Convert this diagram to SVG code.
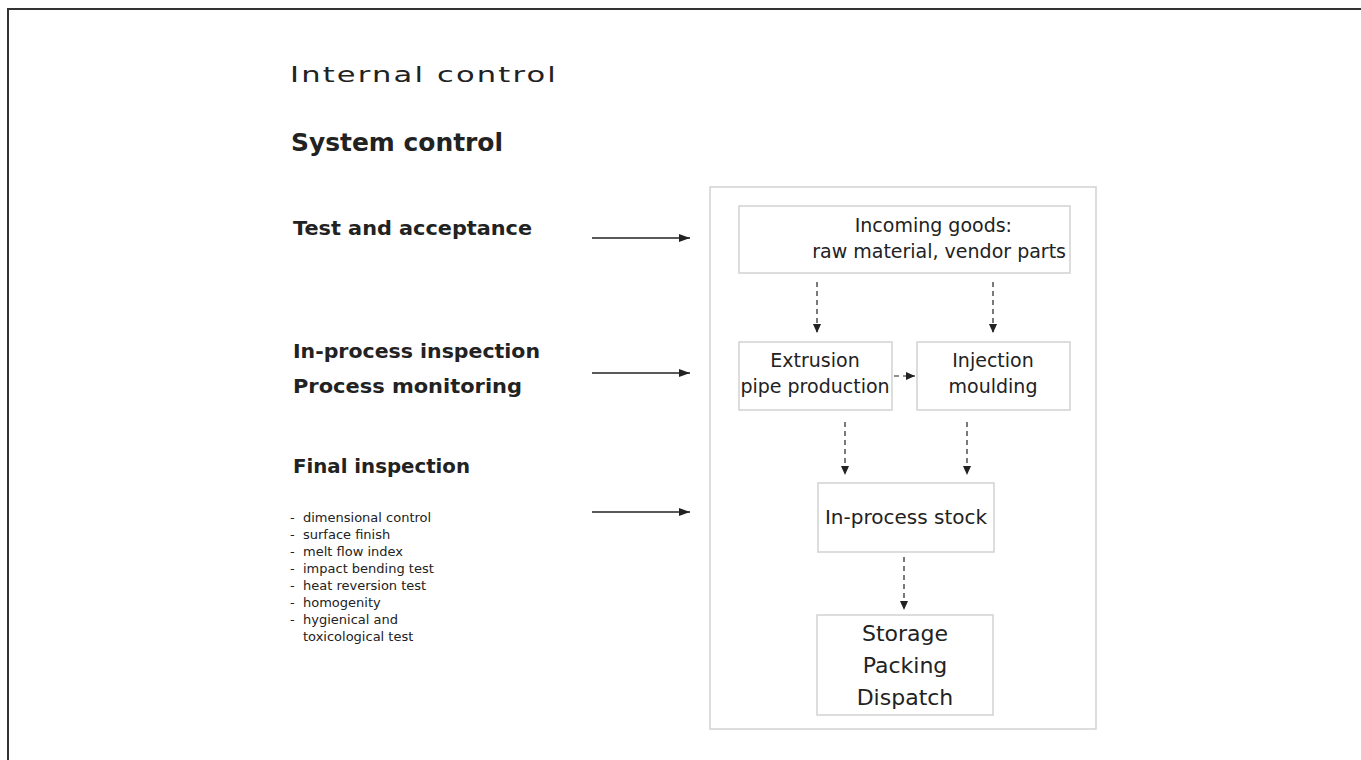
<svg xmlns="http://www.w3.org/2000/svg" width="1361" height="760" viewBox="0 0 1361 760">
<style>
.t{font-family:"DejaVu Sans","Liberation Sans",sans-serif;fill:#222}
.h{font-weight:bold;font-size:20px}
.bx{font-size:19px}
.li{font-size:13px}
.box{fill:#fff;stroke:#d2d2d2;stroke-width:1.5}
.solid{stroke:#222;stroke-width:1.4;fill:none}
.dash{stroke:#222;stroke-width:1.2;fill:none;stroke-dasharray:5 4}
</style>
<defs>
<marker id="ah" viewBox="0 0 11 8" refX="11" refY="4" markerWidth="11" markerHeight="8" markerUnits="userSpaceOnUse" orient="auto"><path d="M0,0 L11,4 L0,8 Z" fill="#222"/></marker>
<marker id="ahs" viewBox="0 0 9 8" refX="9" refY="4" markerWidth="9" markerHeight="8" markerUnits="userSpaceOnUse" orient="auto"><path d="M0,0 L9,4 L0,8 Z" fill="#222"/></marker>
</defs>
<rect width="1361" height="760" fill="#fff"/>
<path d="M8,760 V9 H1361" fill="none" stroke="#333" stroke-width="2"/>

<g id="titles">
<text class="t" x="290" y="82" font-size="21" letter-spacing="1.5" textLength="268" lengthAdjust="spacingAndGlyphs">Internal control</text>
<text class="t" x="291" y="151" font-size="24" font-weight="bold" textLength="212" lengthAdjust="spacingAndGlyphs">System control</text>
</g>

<g id="left-labels">
<text class="t h" x="293" y="235" textLength="239" lengthAdjust="spacingAndGlyphs">Test and acceptance</text>
<text class="t h" x="293" y="358" textLength="247" lengthAdjust="spacingAndGlyphs">In-process inspection</text>
<text class="t h" x="293" y="393" textLength="229" lengthAdjust="spacingAndGlyphs">Process monitoring</text>
<text class="t h" x="293" y="473" textLength="177" lengthAdjust="spacingAndGlyphs">Final inspection</text>
<g class="t li">
<text x="290" y="522">-</text><text x="303" y="522">dimensional control</text>
<text x="290" y="539">-</text><text x="303" y="539">surface finish</text>
<text x="290" y="556">-</text><text x="303" y="556">melt flow index</text>
<text x="290" y="573">-</text><text x="303" y="573">impact bending test</text>
<text x="290" y="590">-</text><text x="303" y="590">heat reversion test</text>
<text x="290" y="607">-</text><text x="303" y="607">homogenity</text>
<text x="290" y="624">-</text><text x="303" y="624">hygienical and</text>
<text x="303" y="641">toxicological test</text>
</g>
</g>

<g id="container"><rect class="box" x="710" y="187" width="386" height="542"/></g>

<g id="incoming">
<rect class="box" x="739" y="206" width="331" height="67"/>
<text class="t bx" x="1012" y="232" text-anchor="end">Incoming goods:</text>
<text class="t bx" x="1066" y="258" text-anchor="end">raw material, vendor parts</text>
</g>
<g id="extrusion">
<rect class="box" x="739" y="342" width="153" height="68"/>
<text class="t bx" x="815" y="367" text-anchor="middle">Extrusion</text>
<text class="t bx" x="815" y="393" text-anchor="middle">pipe production</text>
</g>
<g id="injection">
<rect class="box" x="917" y="342" width="153" height="68"/>
<text class="t bx" x="993" y="367" text-anchor="middle">Injection</text>
<text class="t bx" x="993" y="393" text-anchor="middle">moulding</text>
</g>
<g id="stock">
<rect class="box" x="818" y="483" width="176" height="69"/>
<text class="t" x="906" y="524" text-anchor="middle" font-size="20">In-process stock</text>
</g>
<g id="storage">
<rect class="box" x="817" y="615" width="176" height="100"/>
<text class="t" x="905" y="641" text-anchor="middle" font-size="22">Storage</text>
<text class="t" x="905" y="673" text-anchor="middle" font-size="22">Packing</text>
<text class="t" x="905" y="705" text-anchor="middle" font-size="22">Dispatch</text>
</g>

<g id="connectors">
<line class="solid" x1="592" y1="238" x2="690" y2="238" marker-end="url(#ah)"/>
<line class="solid" x1="592" y1="373" x2="690" y2="373" marker-end="url(#ah)"/>
<line class="solid" x1="592" y1="512" x2="690" y2="512" marker-end="url(#ah)"/>
<line class="dash" x1="817" y1="282" x2="817" y2="333" marker-end="url(#ahs)"/>
<line class="dash" x1="993" y1="282" x2="993" y2="333" marker-end="url(#ahs)"/>
<line class="dash" x1="894" y1="376" x2="915" y2="376" marker-end="url(#ahs)"/>
<line class="dash" x1="845" y1="422" x2="845" y2="475" marker-end="url(#ahs)"/>
<line class="dash" x1="967" y1="422" x2="967" y2="475" marker-end="url(#ahs)"/>
<line class="dash" x1="904" y1="557" x2="904" y2="610" marker-end="url(#ahs)"/>
</g>
</svg>
